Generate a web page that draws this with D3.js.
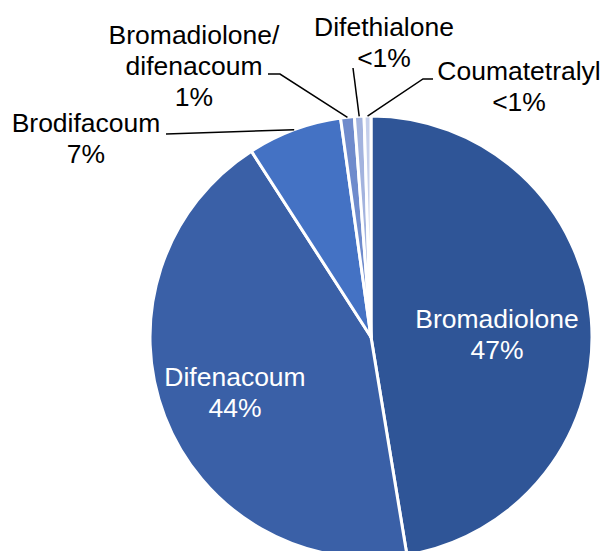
<!DOCTYPE html>
<html>
<head>
<meta charset="utf-8">
<script src="https://cdn.jsdelivr.net/npm/d3@7"></script>
<style>
  html, body { margin: 0; padding: 0; background: #ffffff; }
  svg { display: block; }
</style>
</head>
<body>
<script>
  // slice data, clockwise from 12 o'clock
  const names = ["Bromadiolone", "Difenacoum", "Brodifacoum", "Bromadiolone/\ndifenacoum", "Difethialone", "Coumatetralyl"];
  const shares = [47.4, 43.5, 6.9, 1.0, 0.7, 0.5];
  const pctLabels = ["47%", "44%", "7%", "1%", "<1%", "<1%"];
  const colors = ["#2f5597", "#3a60a7", "#4472c4", "#6f8bcc", "#a3b3de", "#c5cfeb"];

  // label layout: centre x, first baseline, inside or outside, leader start
  const labelPos = [
    { x: 497, y: 328, inside: true },
    { x: 235, y: 386, inside: true },
    { x: 86, y: 132, inside: false, lead: [[166, 134]] },
    { x: 194, y: 44, inside: false, lead: [[268, 74], [280, 74]] },
    { x: 384, y: 36, inside: false, lead: [[353, 68]] },
    { x: 519, y: 80, inside: false, lead: [[433, 79], [423, 79]] }
  ];

  const width = 604, height = 551;
  const cx = 371, cy = 337, radius = 221;
  const lineH = 31;

  const svg = d3.select("body").append("svg")
    .attr("width", width)
    .attr("height", height);

  const data = names.map((n, i) => ({ name: n, value: shares[i], pct: pctLabels[i], color: colors[i], pos: labelPos[i] }));

  const pie = d3.pie().sort(null).value(d => d.value);
  const arc = d3.arc().innerRadius(0).outerRadius(radius);
  const arcs = pie(data);

  const g = svg.append("g").attr("transform", `translate(${cx},${cy})`);

  g.selectAll("path.slice")
    .data(arcs)
    .enter()
    .append("path")
      .attr("class", "slice")
      .attr("d", arc)
      .attr("fill", d => d.data.color)
      .attr("stroke", "#ffffff")
      .attr("stroke-width", 3)
      .attr("stroke-linejoin", "round");

  // leader lines for outside labels, ending on the pie edge at mid angle
  arcs.filter(d => !d.data.pos.inside).forEach(d => {
    const mid = (d.startAngle + d.endAngle) / 2;
    const end = [cx + radius * Math.sin(mid), cy - radius * Math.cos(mid)];
    const pts = d.data.pos.lead.concat([end]);
    svg.append("path")
      .attr("d", d3.line()(pts))
      .attr("fill", "none")
      .attr("stroke", "#000000")
      .attr("stroke-width", 1.5);
  });

  // labels (text in the reference is a bit wider than Liberation Sans)
  arcs.forEach(d => {
    const p = d.data.pos;
    const lines = d.data.name.split("\n").concat([d.data.pct]);
    const t = svg.append("text")
      .attr("transform", `translate(${p.x},${p.y}) scale(1.06,1)`)
      .attr("text-anchor", "middle")
      .attr("font-family", "'Liberation Sans', Arial, sans-serif")
      .attr("font-size", 25)
      .attr("fill", p.inside ? "#ffffff" : "#000000");
    lines.forEach((s, i) => {
      t.append("tspan")
        .attr("x", 0)
        .attr("y", i * lineH)
        .text(s);
    });
  });
</script>
</body>
</html>
